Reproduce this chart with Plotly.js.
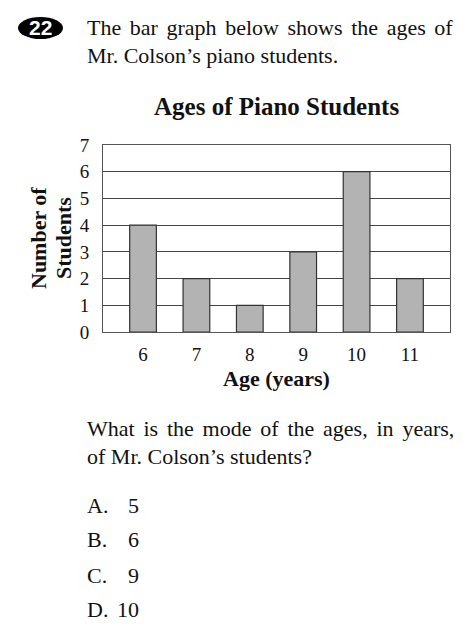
<!DOCTYPE html>
<html>
<head>
<meta charset="utf-8">
<script src="https://cdn.plot.ly/plotly-3.0.1.min.js"></script>
<style>
html,body{margin:0;padding:0;background:#fff;}
#chart{width:471px;height:628px;}
</style>
</head>
<body>
<div id="chart"></div>
<script>
// ---- data ----
var ages = [6, 7, 8, 9, 10, 11];
var students = [4, 2, 1, 3, 6, 2];
var yTicks = [0, 1, 2, 3, 4, 5, 6, 7];
var chartTitle = "Ages of Piano Students";
var xTitle = "Age (years)";
var yTitleLines = ["Number of", "Students"];
var questionNumber = "22";
var introLines = ["The bar graph below shows the ages of", "Mr. Colson\u2019s piano students."];
var questionLines = ["What is the mode of the ages, in years,", "of Mr. Colson\u2019s students?"];
var choiceLetters = ["A.", "B.", "C.", "D."];
var choiceValues = ["5", "6", "9", "10"];

// ---- layout helpers (pixel -> paper) ----
var W = 471, H = 628;
var M = {l: 103, r: 21, t: 145, b: 296};
var PW = W - M.l - M.r, PH = H - M.t - M.b;
function px(x){ return (x - M.l) / PW; }
function py(y){ return (H - M.b - y) / PH; }

var serif = "Liberation Serif, Times New Roman, serif";
var ink = "#111";

var annotations = [];
function textAnn(txt, x, y, xanchor, size, extra){
  var a = {text: txt, xref: 'paper', yref: 'paper', x: px(x), y: py(y),
    xanchor: xanchor, yanchor: 'middle', showarrow: false,
    font: {family: serif, size: size, color: ink}};
  if (extra) for (var k in extra) a[k] = extra[k];
  annotations.push(a);
}
// intro
textAnn('<span style="word-spacing:3.1px">' + introLines[0] + '</span>', 85, 28, 'left', 22);
textAnn(introLines[1], 85, 55, 'left', 22);
// question
textAnn('<span style="word-spacing:3.3px">' + questionLines[0] + '</span>', 85, 428, 'left', 22);
textAnn(questionLines[1], 85, 456, 'left', 22);
var choiceY = [505, 539, 575, 609];
for (var i = 0; i < choiceLetters.length; i++){
  textAnn(choiceLetters[i], 85, choiceY[i], 'left', 22);
  textAnn(choiceValues[i], 141, choiceY[i], 'right', 22);
}
// chart title
textAnn('<b>' + chartTitle + '</b>', 276.5, 106, 'center', 25);
// y axis title, two rotated lines
textAnn('<b>' + yTitleLines[0] + '</b>', 38, 238, 'center', 22, {textangle: -90});
textAnn('<b>' + yTitleLines[1] + '</b>', 63, 238, 'center', 22, {textangle: -90});
// badge number
annotations.push({text: '<b>' + questionNumber + '</b>', xref: 'paper', yref: 'paper',
  x: px(40.5), y: py(28), xanchor: 'center', yanchor: 'middle', showarrow: false,
  font: {family: 'Liberation Sans, Arial, sans-serif', size: 21, color: '#fff'}});

var shapes = [{type: 'circle', xref: 'paper', yref: 'paper',
  x0: px(18), x1: px(63), y0: py(17), y1: py(39),
  fillcolor: '#000', line: {width: 0}, layer: 'above'}];

var trace = {
  type: 'bar', x: ages, y: students, width: 0.5,
  marker: {color: '#b3b3b3', line: {color: '#333', width: 1.2}},
  hoverinfo: 'skip'
};

var layout = {
  width: W, height: H,
  margin: M,
  paper_bgcolor: '#fff', plot_bgcolor: '#fff',
  showlegend: false,
  xaxis: {
    range: [5.25, 11.75], tickmode: 'array', tickvals: ages, ticktext: ages.map(String),
    showgrid: false, zeroline: false, showline: true, mirror: true,
    linecolor: '#555', linewidth: 1, ticks: '', ticklabelstandoff: 5,
    tickfont: {family: serif, size: 19, color: ink}, fixedrange: true,
    title: {text: '<b>' + xTitle + '</b>', standoff: 6,
      font: {family: serif, size: 22, color: ink}}
  },
  yaxis: {
    range: [0, 7], tickmode: 'array', tickvals: yTicks,
    showgrid: true, gridcolor: '#444', gridwidth: 1, zeroline: false,
    showline: true, mirror: true, linecolor: '#555', linewidth: 1,
    ticks: '', ticklabelstandoff: 9,
    tickfont: {family: serif, size: 19, color: ink}, fixedrange: true
  },
  annotations: annotations,
  shapes: shapes,
  bargap: 0.5
};

Plotly.newPlot('chart', [trace], layout, {displayModeBar: false, staticPlot: true});
</script>
</body>
</html>
